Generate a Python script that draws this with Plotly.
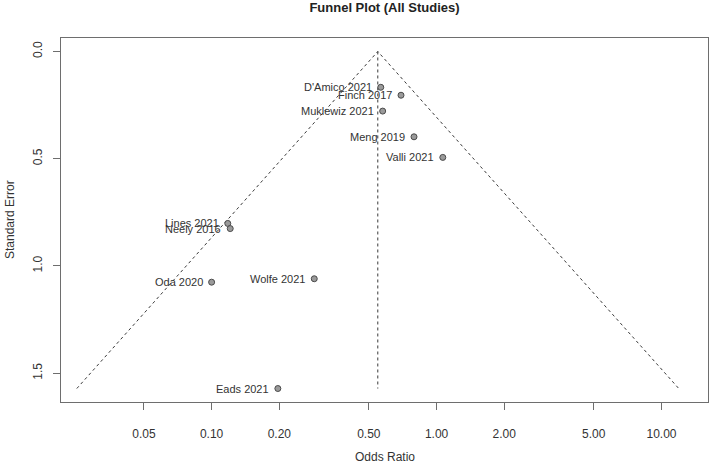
import numpy as np
import plotly.graph_objects as go

studies = ["D'Amico 2021", 'Finch 2017', 'Muklewiz 2021', 'Meng 2019', 'Valli 2021',
           'Lines 2021', 'Neely 2016', 'Oda 2020', 'Wolfe 2021', 'Eads 2021']
odds_ratios = [0.565, 0.695, 0.576, 0.794, 1.066, 0.118, 0.121, 0.100, 0.286, 0.197]
std_errors = [0.167, 0.204, 0.278, 0.398, 0.494, 0.802, 0.826, 1.076, 1.060, 1.572]
pooled_or = 0.548

x_ticks = [0.05, 0.10, 0.20, 0.50, 1.00, 2.00, 5.00, 10.00]
x_tick_labels = ['0.05', '0.10', '0.20', '0.50', '1.00', '2.00', '5.00', '10.00']
y_ticks = [0.0, 0.5, 1.0, 1.5]
y_tick_labels = ['0.0', '0.5', '1.0', '1.5']

FONT = 'Liberation Sans, Arial, sans-serif'
AXIS_COLOR = '#6e6e6e'

se_max = max(std_errors)
left_or = pooled_or * np.exp(-1.96 * se_max)
right_or = pooled_or * np.exp(1.96 * se_max)

fig = go.Figure()

# funnel outline
fig.add_trace(go.Scatter(x=[left_or, pooled_or, right_or], y=[se_max, 0, se_max],
                         mode='lines', line=dict(color='#3a3a3a', width=1, dash='dot'),
                         hoverinfo='skip', showlegend=False))
# vertical line at the pooled estimate
fig.add_trace(go.Scatter(x=[pooled_or, pooled_or], y=[0, se_max],
                         mode='lines', line=dict(color='#3a3a3a', width=1, dash='dot'),
                         hoverinfo='skip', showlegend=False))

fig.add_trace(go.Scatter(x=odds_ratios, y=std_errors, mode='markers',
                         marker=dict(size=6, color='#9a9a9a', line=dict(color='#4a4a4a', width=1)),
                         text=studies, showlegend=False))

for name, x, y in zip(studies, odds_ratios, std_errors):
    fig.add_annotation(x=np.log10(x), y=y, text=name, showarrow=False,
                       xanchor='right', yanchor='middle', xshift=-7,
                       font=dict(family=FONT, size=11, color='#333333'))

# axis titles placed by hand, like R's mtext
fig.add_annotation(x=0.5, y=0, xref='paper', yref='paper', text='Odds Ratio', showarrow=False,
                   xanchor='center', yanchor='middle', yshift=-55,
                   font=dict(family=FONT, size=12, color='#333333'))
fig.add_annotation(x=0, y=0.5, xref='paper', yref='paper', text='Standard Error', showarrow=False,
                   textangle=-90, xanchor='center', yanchor='middle', xshift=-51,
                   font=dict(family=FONT, size=12, color='#333333'))

y_top = -0.04 * se_max
y_bottom = se_max * 1.04
x_lo = np.log10(0.0214)
x_hi = np.log10(16.1)

fig.update_layout(
    width=709, height=464,
    margin=dict(l=61, r=1, t=38, b=62),
    plot_bgcolor='white', paper_bgcolor='white',
    font=dict(family=FONT, size=12, color='#333333'),
    title=dict(text='<b>Funnel Plot (All Studies)</b>', x=0.5, xref='paper', xanchor='center',
               y=0.984, yref='container', yanchor='middle', font=dict(size=13, color='#222222')),
    xaxis=dict(type='log', range=[x_lo, x_hi], tickvals=x_ticks, ticktext=x_tick_labels,
               ticks='outside', ticklen=7, tickcolor=AXIS_COLOR, showgrid=False, zeroline=False,
               showline=True, linecolor=AXIS_COLOR, linewidth=1, mirror=True,
               ticklabelstandoff=14, automargin=False),
    yaxis=dict(range=[y_bottom, y_top], tickvals=y_ticks, ticktext=y_tick_labels,
               tickangle=-90, ticks='outside', ticklen=7, tickcolor=AXIS_COLOR,
               showgrid=False, zeroline=False, showline=True, linecolor=AXIS_COLOR,
               linewidth=1, mirror=True, ticklabelstandoff=6, automargin=False),
)

# drop the default 8px body margin so the figure fills the window
fig.write_html('out.html', config={'displayModeBar': False},
               post_script="document.body.style.margin = '0px';")
